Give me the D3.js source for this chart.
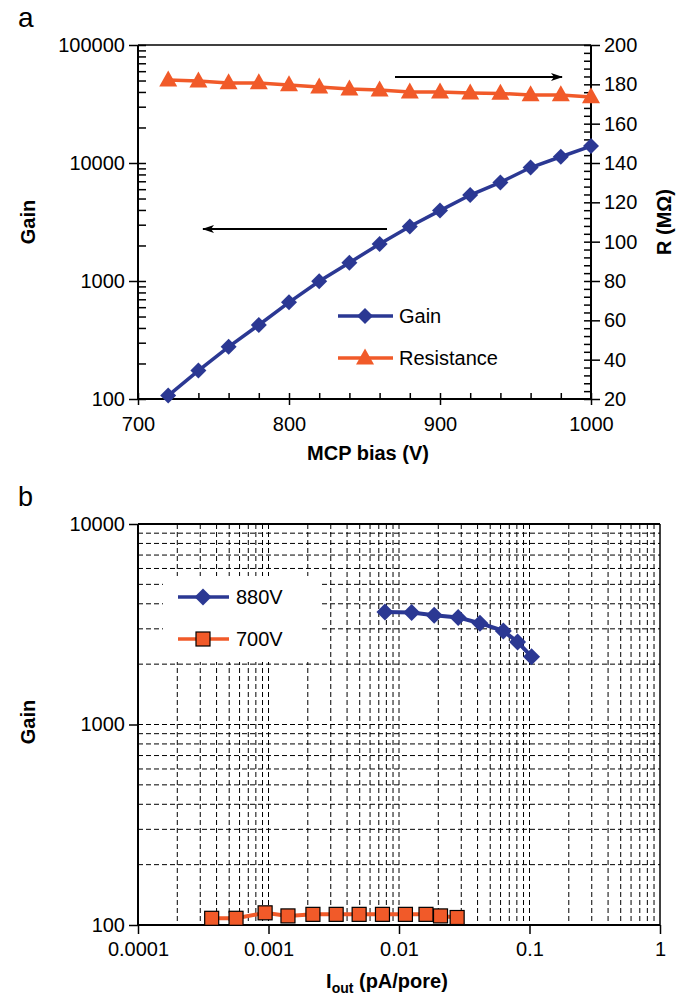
<!DOCTYPE html>
<html>
<head>
<meta charset="utf-8">
<script src="https://cdn.jsdelivr.net/npm/d3@7"></script>
<style>
  body { margin: 0; background: #fff; }
  svg { display: block; font-family: "Liberation Sans", Arial, sans-serif; }
  .domain { display: none; }
</style>
</head>
<body>
<svg width="686" height="997"></svg>
<script>
// panel a: gain and resistance vs MCP bias
var bias = [720, 740, 760, 780, 800, 820, 840, 860, 880, 900, 920, 940, 960, 980, 1000];
var gain = [107, 174, 277, 424, 660, 995, 1430, 2060, 2900, 3950, 5350, 6850, 9150, 11300, 13900];
var resistance = [182.2, 181.7, 180.7, 180.7, 179.7, 178.6, 177.6, 177.1, 176.1, 176.1, 175.6, 175.4, 174.6, 174.6, 173.6];
var gainTicks = [100, 1000, 10000, 100000];
var biasTicks = [700, 800, 900, 1000];
var rTicks = [20, 40, 60, 80, 100, 120, 140, 160, 180, 200];

// panel b: gain vs output current
var iout880 = [0.0078, 0.0125, 0.0186, 0.0284, 0.0417, 0.063, 0.081, 0.1037];
var gain880 = [3640, 3620, 3510, 3420, 3200, 2930, 2580, 2180];
var iout700 = [0.000367, 0.000564, 0.000942, 0.00141, 0.00219, 0.0033, 0.00495, 0.00747, 0.0112, 0.0161, 0.0208, 0.0279];
var gain700 = [108, 108, 115, 111, 113, 113, 113, 113, 113, 113, 111, 109];
var ioutTicks = [0.0001, 0.001, 0.01, 0.1, 1];
var gainTicksB = [100, 1000, 10000];

var blue = "#2b3893", orange = "#f15a29";
var svg = d3.select("svg");

function diamond(r) { return "M0," + (-r) + "L" + r + ",0L0," + r + "L" + (-r) + ",0Z"; }
function triangle(w, h) { return "M0," + (-h * 0.6) + "L" + (w / 2) + "," + (h * 0.4) + "L" + (-w / 2) + "," + (h * 0.4) + "Z"; }
function logMinors(lo, hi) {
  var out = [];
  for (var p = lo; p < hi; p *= 10) {
    for (var k = 2; k <= 9; k++) out.push(+(p * k).toPrecision(3));
  }
  return out;
}
// plain black ticks, arial-like labels
function styleAxis(sel) {
  sel.selectAll(".tick line").attr("stroke", "#000").attr("stroke-width", 1.5);
  sel.selectAll(".tick text")
    .style("font-family", "'Liberation Sans', Arial, sans-serif")
    .style("font-size", "20px")
    .attr("fill", "#000");
}

svg.append("defs").append("marker")
  .attr("id", "arrow")
  .attr("viewBox", "0 0 12 8")
  .attr("refX", 11).attr("refY", 4)
  .attr("markerWidth", 12).attr("markerHeight", 8)
  .attr("markerUnits", "userSpaceOnUse")
  .attr("orient", "auto")
  .append("path")
  .attr("d", "M0,0L12,4L0,8L3,4Z")
  .attr("fill", "#000");

/* ---------- panel a ---------- */
(function () {
  var x = d3.scaleLinear().domain([700, 1000]).range([138, 591]),
    yG = d3.scaleLog().domain([100, 100000]).range([399, 45]),
    yR = d3.scaleLinear().domain([20, 200]).range([399, 45]);

  var g = svg.append("g");

  // frame
  g.append("line").attr("x1", 138).attr("x2", 591).attr("y1", 45).attr("y2", 45)
    .attr("stroke", "#000").attr("stroke-width", 1.5);

  // left axis
  g.append("g").attr("transform", "translate(138,0)")
    .call(d3.axisLeft(yG).tickValues(gainTicks).tickSize(9).tickPadding(4).tickFormat(d3.format("d")));
  g.append("g").attr("transform", "translate(138,0)")
    .call(d3.axisRight(yG).tickValues(logMinors(100, 100000).concat(gainTicks)).tickSize(8).tickFormat(""));
  g.append("line").attr("x1", 138).attr("x2", 138).attr("y1", 45).attr("y2", 399)
    .attr("stroke", "#000").attr("stroke-width", 2);

  // right axis
  g.append("g").attr("transform", "translate(591,0)")
    .call(d3.axisRight(yR).tickValues(rTicks).tickSize(9).tickPadding(4));
  g.append("g").attr("transform", "translate(591,0)")
    .call(d3.axisLeft(yR).tickValues(d3.range(20, 201, 4)).tickSize(7).tickFormat(""));
  g.append("line").attr("x1", 591).attr("x2", 591).attr("y1", 45).attr("y2", 399)
    .attr("stroke", "#000").attr("stroke-width", 2);

  // bottom axis
  g.append("g").attr("transform", "translate(0,399)")
    .call(d3.axisBottom(x).tickValues(biasTicks).tickSize(6).tickPadding(12).tickFormat(d3.format("d")));
  g.append("g").attr("transform", "translate(0,399)")
    .call(d3.axisTop(x).tickValues(d3.range(700, 1001, 20)).tickSize(6).tickFormat(""));
  g.append("line").attr("x1", 138).attr("x2", 591).attr("y1", 399).attr("y2", 399)
    .attr("stroke", "#000").attr("stroke-width", 2);

  styleAxis(g);

  // resistance
  g.append("path")
    .attr("d", d3.line().x(function (d, i) { return x(bias[i]); }).y(function (d) { return yR(d); })(resistance))
    .attr("fill", "none").attr("stroke", orange).attr("stroke-width", 3.5);
  g.selectAll(".tri").data(resistance).enter().append("path")
    .attr("d", triangle(18, 16))
    .attr("transform", function (d, i) { return "translate(" + x(bias[i]) + "," + yR(d) + ")"; })
    .attr("fill", orange);

  // gain
  g.append("path")
    .attr("d", d3.line().x(function (d, i) { return x(bias[i]); }).y(function (d) { return yG(d); })(gain))
    .attr("fill", "none").attr("stroke", blue).attr("stroke-width", 3.5);
  g.selectAll(".dia").data(gain).enter().append("path")
    .attr("d", diamond(8))
    .attr("transform", function (d, i) { return "translate(" + x(bias[i]) + "," + yG(d) + ")"; })
    .attr("fill", blue);

  // arrows
  g.append("line").attr("x1", 395).attr("x2", 562).attr("y1", 77).attr("y2", 77)
    .attr("stroke", "#000").attr("stroke-width", 2).attr("marker-end", "url(#arrow)");
  g.append("line").attr("x1", 387).attr("x2", 203).attr("y1", 229).attr("y2", 229)
    .attr("stroke", "#000").attr("stroke-width", 2).attr("marker-end", "url(#arrow)");

  // legend
  var leg = [["Gain", blue, diamond(8), 316], ["Resistance", orange, triangle(18, 16), 358]];
  leg.forEach(function (l) {
    g.append("line").attr("x1", 338).attr("x2", 393).attr("y1", l[3]).attr("y2", l[3])
      .attr("stroke", l[1]).attr("stroke-width", 3.5);
    g.append("path").attr("d", l[2]).attr("fill", l[1])
      .attr("transform", "translate(365," + l[3] + ")");
    g.append("text").attr("x", 399).attr("y", l[3] + 7).attr("font-size", 20).text(l[0]);
  });

  // titles
  g.append("text").attr("x", 18).attr("y", 27).attr("font-size", 28).text("a");
  g.append("text").attr("x", 368).attr("y", 460).attr("text-anchor", "middle")
    .attr("font-size", 20).attr("font-weight", "bold").text("MCP bias (V)");
  g.append("text").attr("transform", "translate(35,222) rotate(-90)").attr("text-anchor", "middle")
    .attr("font-size", 20).attr("font-weight", "bold").text("Gain");
  g.append("text").attr("transform", "translate(671,222) rotate(-90)").attr("text-anchor", "middle")
    .attr("font-size", 20).attr("font-weight", "bold").text("R (MΩ)");
})();

/* ---------- panel b ---------- */
(function () {
  var x = d3.scaleLog().domain([0.0001, 1]).range([138, 660]),
    y = d3.scaleLog().domain([100, 10000]).range([925, 524]);

  var g = svg.append("g");

  // dashed grid
  var vx = logMinors(0.0001, 1).concat([0.001, 0.01, 0.1]);
  var hy = logMinors(100, 10000).concat([1000]);
  g.selectAll(".gv").data(vx).enter().append("line")
    .attr("x1", function (d) { return x(d); }).attr("x2", function (d) { return x(d); })
    .attr("y1", 524).attr("y2", 925)
    .attr("stroke", "#000").attr("stroke-width", 1).attr("stroke-dasharray", "5,3");
  g.selectAll(".gh").data(hy).enter().append("line")
    .attr("x1", 138).attr("x2", 660)
    .attr("y1", function (d) { return y(d); }).attr("y2", function (d) { return y(d); })
    .attr("stroke", "#000").attr("stroke-width", 1).attr("stroke-dasharray", "5,3");

  // legend background
  g.append("rect").attr("x", 163).attr("y", 576).attr("width", 159).attr("height", 86).attr("fill", "#fff");

  // frame
  g.append("line").attr("x1", 138).attr("x2", 660).attr("y1", 524).attr("y2", 524)
    .attr("stroke", "#000").attr("stroke-width", 2);
  g.append("line").attr("x1", 660).attr("x2", 660).attr("y1", 524).attr("y2", 925)
    .attr("stroke", "#000").attr("stroke-width", 1.5);

  g.append("g").attr("transform", "translate(138,0)")
    .call(d3.axisLeft(y).tickValues(gainTicksB).tickSize(9).tickPadding(4).tickFormat(d3.format("d")));
  g.append("line").attr("x1", 138).attr("x2", 138).attr("y1", 524).attr("y2", 925)
    .attr("stroke", "#000").attr("stroke-width", 2);

  g.append("g").attr("transform", "translate(0,925)")
    .call(d3.axisBottom(x).tickValues(ioutTicks).tickSize(9).tickPadding(8)
      .tickFormat(function (d) { return String(+d.toPrecision(1)); }));
  g.append("line").attr("x1", 138).attr("x2", 660).attr("y1", 925).attr("y2", 925)
    .attr("stroke", "#000").attr("stroke-width", 2);

  styleAxis(g);

  // 880V
  g.append("path")
    .attr("d", d3.line().x(function (d, i) { return x(iout880[i]); }).y(function (d) { return y(d); })(gain880))
    .attr("fill", "none").attr("stroke", blue).attr("stroke-width", 4);
  g.selectAll(".dia").data(gain880).enter().append("path")
    .attr("d", diamond(8.5))
    .attr("transform", function (d, i) { return "translate(" + x(iout880[i]) + "," + y(d) + ")"; })
    .attr("fill", blue);

  // 700V
  g.append("path")
    .attr("d", d3.line().x(function (d, i) { return x(iout700[i]); }).y(function (d) { return y(d); })(gain700))
    .attr("fill", "none").attr("stroke", orange).attr("stroke-width", 4);
  g.selectAll(".sq").data(gain700).enter().append("rect")
    .attr("x", function (d, i) { return x(iout700[i]) - 7; })
    .attr("y", function (d) { return y(d) - 7; })
    .attr("width", 14).attr("height", 14)
    .attr("fill", orange).attr("stroke", "#000").attr("stroke-width", 1.2);

  // legend
  g.append("line").attr("x1", 178).attr("x2", 229).attr("y1", 597).attr("y2", 597)
    .attr("stroke", blue).attr("stroke-width", 3.5);
  g.append("path").attr("d", diamond(8.5)).attr("fill", blue).attr("transform", "translate(203,597)");
  g.append("text").attr("x", 236).attr("y", 604).attr("font-size", 20).text("880V");
  g.append("line").attr("x1", 178).attr("x2", 229).attr("y1", 639).attr("y2", 639)
    .attr("stroke", orange).attr("stroke-width", 3.5);
  g.append("rect").attr("x", 196).attr("y", 632).attr("width", 14).attr("height", 14)
    .attr("fill", orange).attr("stroke", "#000").attr("stroke-width", 1.2);
  g.append("text").attr("x", 236).attr("y", 646).attr("font-size", 20).text("700V");

  // titles
  g.append("text").attr("x", 18).attr("y", 506).attr("font-size", 27).text("b");
  g.append("text").attr("transform", "translate(35,722) rotate(-90)").attr("text-anchor", "middle")
    .attr("font-size", 20).attr("font-weight", "bold").text("Gain");
  var xt = g.append("text").attr("x", 387).attr("y", 988).attr("text-anchor", "middle")
    .attr("font-size", 20).attr("font-weight", "bold");
  xt.append("tspan").text("I");
  xt.append("tspan").attr("font-size", 14).attr("dy", 5).text("out");
  xt.append("tspan").attr("dy", -5).text(" (pA/pore)");
})();
</script>
</body>
</html>
